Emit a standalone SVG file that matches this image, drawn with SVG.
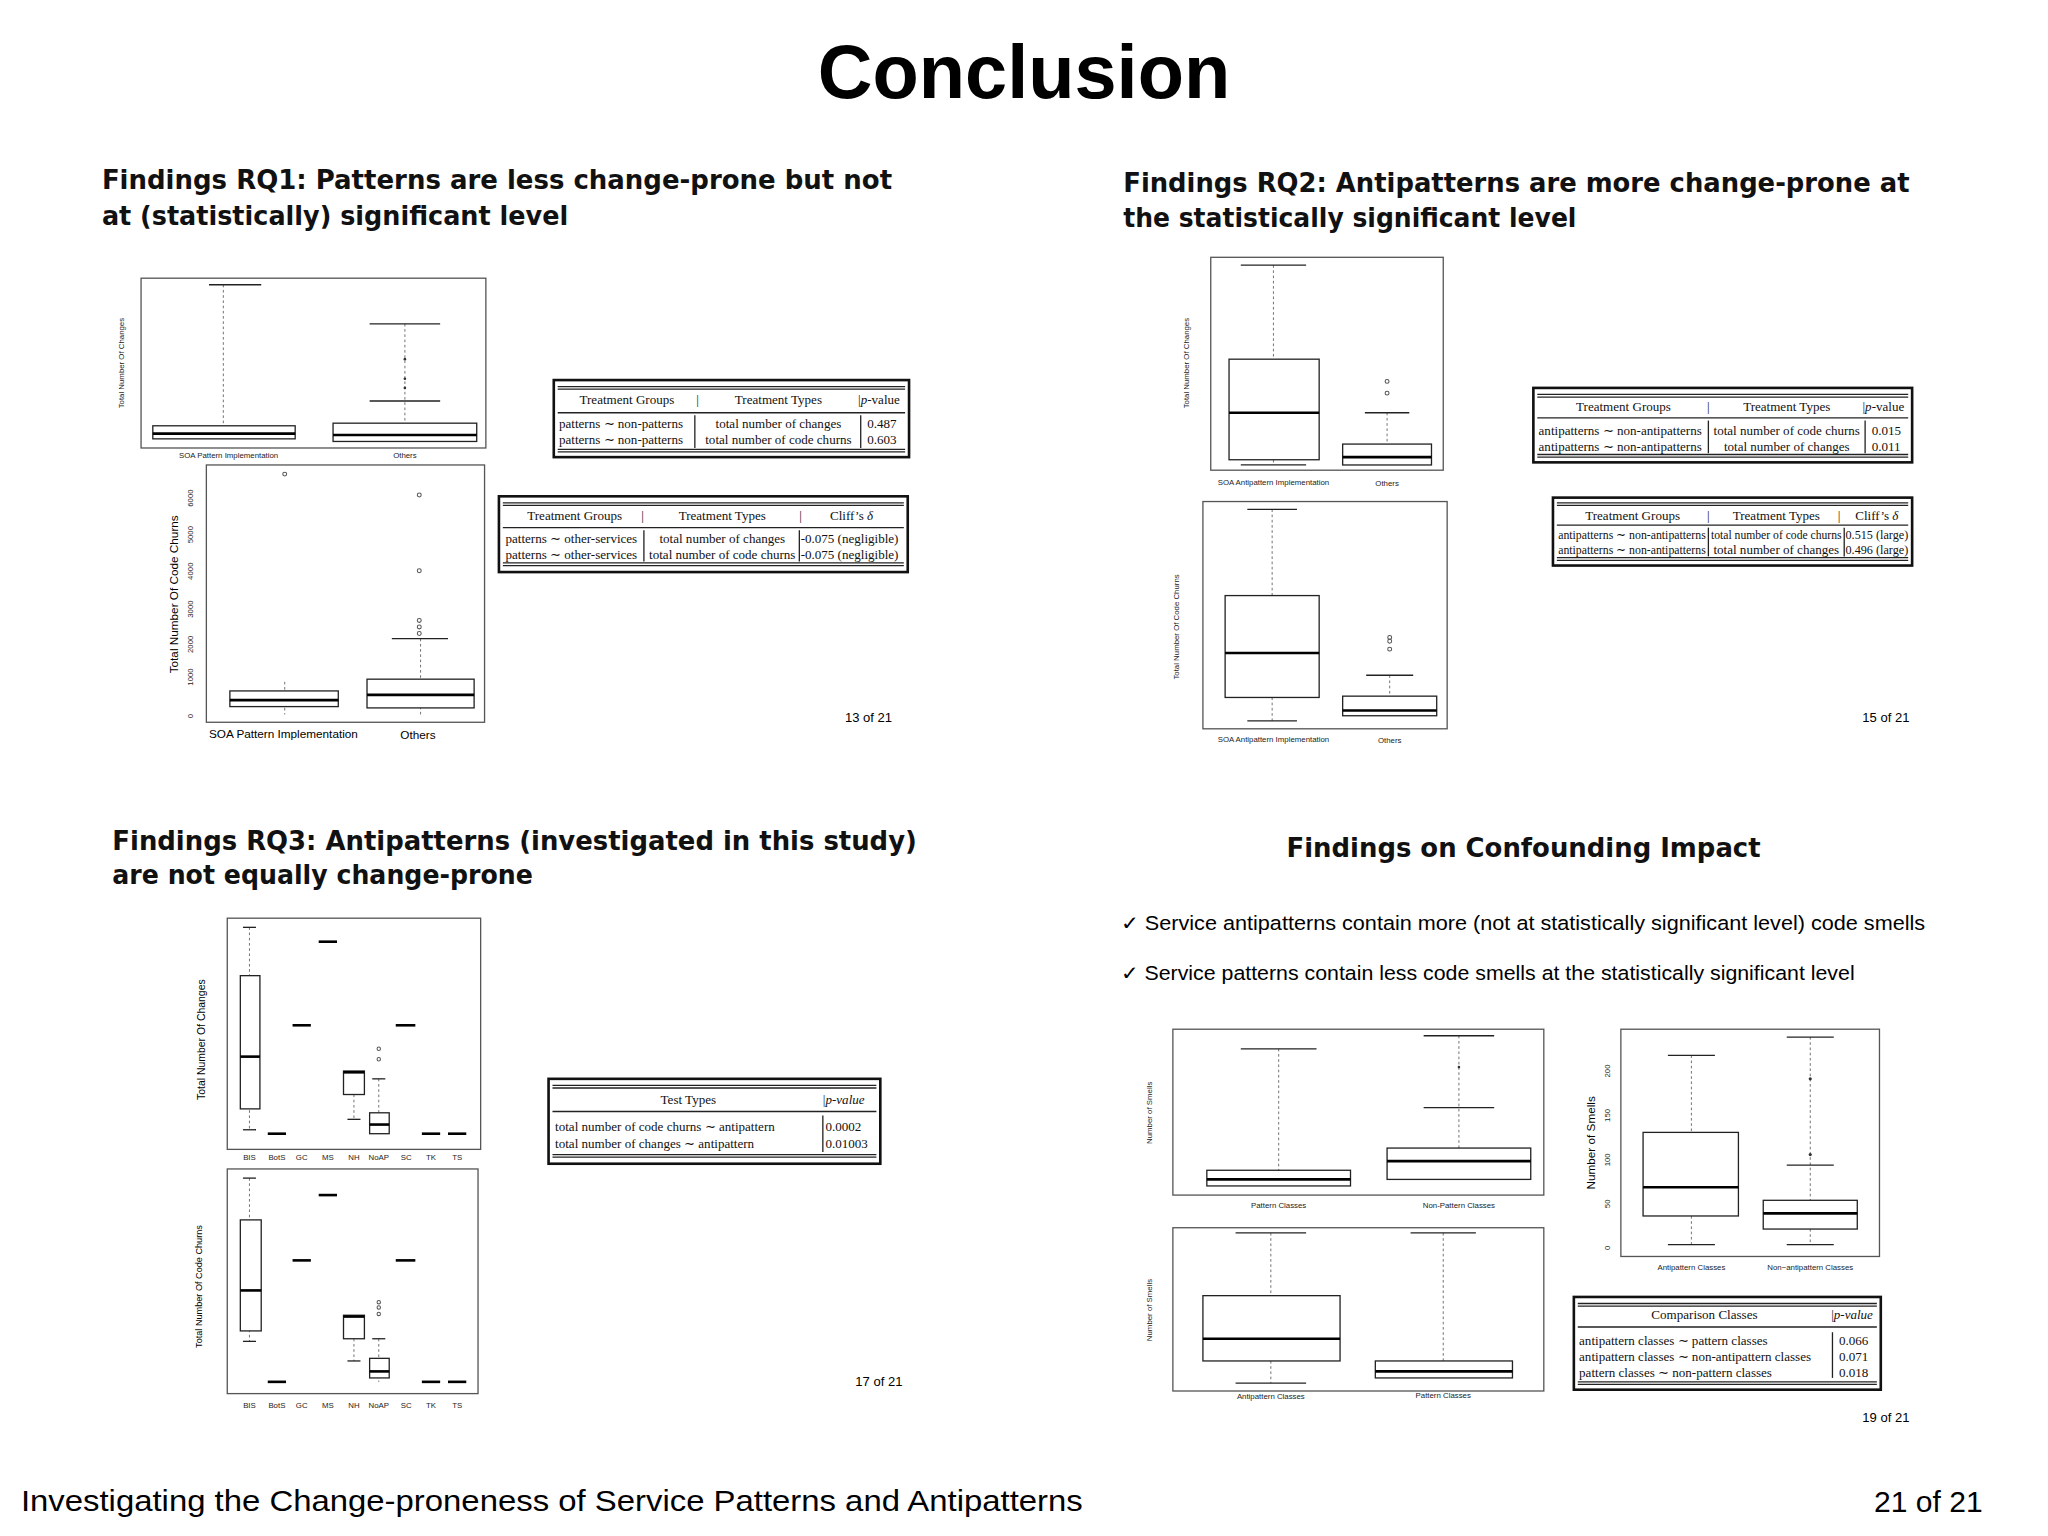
<svg xmlns="http://www.w3.org/2000/svg" width="2048" height="1536" viewBox="0 0 2048 1536">
<style>
.t{font-family:"Liberation Sans",Arial,sans-serif;fill:#000}
.h{font-family:"DejaVu Sans",sans-serif;font-weight:bold;font-size:20px;fill:#111}
.s{font-family:"Liberation Serif","Times New Roman",serif;fill:#111;font-size:10px}
.ax{font-family:"Liberation Sans",Arial,sans-serif;font-size:6px;fill:#222}
.pl{fill:#fff;stroke:#555;stroke-width:1}
.bx{fill:#fff;stroke:#222;stroke-width:1}
.md{stroke:#000;stroke-width:2}
.wk{stroke:#666;stroke-width:0.7;stroke-dasharray:2,2;fill:none}
.fr{fill:#fff;stroke:#111;stroke-width:2}
.rl{stroke:#222;stroke-width:1}
.o{fill:none;stroke:#555;stroke-width:0.8}
</style>
<rect width="2048" height="1536" fill="#fff"/>
<g transform="scale(1.3061)">
<text class="t" x="784" y="75" text-anchor="middle" font-size="58" font-weight="bold">Conclusion</text>

<!-- Slide 1 -->
<g id="slide1">
<text class="h" x="78" y="145" textLength="605" lengthAdjust="spacingAndGlyphs">Findings RQ1: Patterns are less change-prone but not</text>
<text class="h" x="78" y="172" textLength="357" lengthAdjust="spacingAndGlyphs">at (statistically) significant level</text>
<rect class="pl" x="108" y="213" width="264" height="130"/>
<line class="wk" x1="171" y1="218" x2="171" y2="326"/><line class="rl" x1="160" y1="218" x2="200" y2="218"/>
<rect class="bx" x="117" y="326" width="109" height="10"/><line class="md" x1="117" y1="332" x2="226" y2="332"/>
<line class="wk" x1="310" y1="248" x2="310" y2="324"/><line class="rl" x1="283" y1="248" x2="337" y2="248"/><line class="rl" x1="283" y1="307" x2="337" y2="307"/>
<circle cx="310" cy="275" r="1" fill="#333"/><circle cx="310" cy="290" r="1" fill="#333"/><circle cx="310" cy="297" r="1" fill="#333"/>
<rect class="bx" x="255" y="324" width="110" height="14"/><line class="md" x1="255" y1="333" x2="365" y2="333"/>
<text class="ax" x="95" y="278" transform="rotate(-90 95 278)" text-anchor="middle">Total Number Of Changes</text>
<text class="ax" x="175" y="351" text-anchor="middle">SOA Pattern Implementation</text>
<text class="ax" x="310" y="351" text-anchor="middle">Others</text>
<rect class="pl" x="158" y="356" width="213" height="197"/>
<line class="wk" x1="218" y1="522" x2="218" y2="547"/>
<rect class="bx" x="176" y="529" width="83" height="12"/><line class="md" x1="176" y1="536" x2="259" y2="536"/>
<circle class="o" cx="218" cy="363" r="1.5"/>
<line class="wk" x1="322" y1="489" x2="322" y2="548"/><line class="rl" x1="300" y1="489" x2="343" y2="489"/>
<circle class="o" cx="321" cy="379" r="1.5"/><circle class="o" cx="321" cy="437" r="1.5"/><circle class="o" cx="321" cy="475" r="1.5"/><circle class="o" cx="321" cy="480" r="1.5"/><circle class="o" cx="321" cy="485" r="1.5"/>
<rect class="bx" x="281" y="520" width="82" height="22"/><line class="md" x1="281" y1="532" x2="363" y2="532"/>
<text class="t" font-size="9" x="136" y="455" transform="rotate(-90 136 455)" text-anchor="middle">Total Number Of Code Churns</text>
<text class="ax" font-size="7" x="148" y="550" transform="rotate(-90 148 550)">0</text>
<text class="ax" x="148" y="525" transform="rotate(-90 148 525)">1000</text>
<text class="ax" x="148" y="500" transform="rotate(-90 148 500)">2000</text>
<text class="ax" x="148" y="473" transform="rotate(-90 148 473)">3000</text>
<text class="ax" x="148" y="444" transform="rotate(-90 148 444)">4000</text>
<text class="ax" x="148" y="416" transform="rotate(-90 148 416)">5000</text>
<text class="ax" x="148" y="388" transform="rotate(-90 148 388)">6000</text>
<text class="t" font-size="9" x="217" y="565" text-anchor="middle">SOA Pattern Implementation</text>
<text class="t" font-size="9" x="320" y="566" text-anchor="middle">Others</text>
<rect class="fr" x="424" y="291" width="272" height="59"/>
<line class="rl" x1="427" y1="296" x2="693" y2="296"/><line class="rl" x1="427" y1="298" x2="693" y2="298"/>
<line class="rl" x1="427" y1="316" x2="693" y2="316"/>
<line class="rl" x1="427" y1="344" x2="693" y2="344"/><line class="rl" x1="427" y1="346" x2="693" y2="346"/>
<text class="s" x="480" y="309" text-anchor="middle">Treatment Groups</text><text class="s" x="533" y="309">|</text>
<text class="s" x="596" y="309" text-anchor="middle">Treatment Types</text><text class="s" x="657" y="309">|<tspan font-style="italic">p</tspan>-value</text>
<text class="s" x="428" y="328">patterns ∼ non-patterns</text><text class="s" x="428" y="340">patterns ∼ non-patterns</text>
<line class="rl" x1="532" y1="318" x2="532" y2="343"/><line class="rl" x1="659" y1="318" x2="659" y2="343"/>
<text class="s" x="596" y="328" text-anchor="middle">total number of changes</text><text class="s" x="596" y="340" text-anchor="middle">total number of code churns</text>
<text class="s" x="664" y="328">0.487</text><text class="s" x="664" y="340">0.603</text>
<rect class="fr" x="382" y="380" width="313" height="58"/>
<line class="rl" x1="385" y1="385" x2="692" y2="385"/><line class="rl" x1="385" y1="387" x2="692" y2="387"/>
<line class="rl" x1="385" y1="404" x2="692" y2="404"/>
<line class="rl" x1="385" y1="431" x2="692" y2="431"/><line class="rl" x1="385" y1="433" x2="692" y2="433"/>
<text class="s" x="440" y="398" text-anchor="middle">Treatment Groups</text><text class="s" x="491" y="398">|</text>
<text class="s" x="553" y="398" text-anchor="middle">Treatment Types</text><text class="s" x="612" y="398">|</text>
<text class="s" x="652" y="398" text-anchor="middle">Cliff’s <tspan font-style="italic">δ</tspan></text>
<text class="s" x="387" y="416">patterns ∼ other-services</text><text class="s" x="387" y="428">patterns ∼ other-services</text>
<line class="rl" x1="493" y1="406" x2="493" y2="430"/><line class="rl" x1="612" y1="406" x2="612" y2="430"/>
<text class="s" x="553" y="416" text-anchor="middle">total number of changes</text><text class="s" x="553" y="428" text-anchor="middle">total number of code churns</text>
<text class="s" x="613" y="416">-0.075 (negligible)</text><text class="s" x="613" y="428">-0.075 (negligible)</text>
<text class="t" font-size="10" x="683" y="553" text-anchor="end" fill="#333">13 of 21</text>
</g>

<!-- Slide 2 -->
<g id="slide2">
<text class="h" x="860" y="147" textLength="602" lengthAdjust="spacingAndGlyphs">Findings RQ2: Antipatterns are more change-prone at</text>
<text class="h" x="860" y="174" textLength="347" lengthAdjust="spacingAndGlyphs">the statistically significant level</text>
<rect class="pl" x="927" y="197" width="178" height="163"/>
<line class="wk" x1="975" y1="203" x2="975" y2="275"/><line class="rl" x1="950" y1="203" x2="1000" y2="203"/>
<line class="wk" x1="975" y1="352" x2="975" y2="356"/><line class="rl" x1="950" y1="356" x2="1000" y2="356"/>
<rect class="bx" x="941" y="275" width="69" height="77"/><line class="md" x1="941" y1="316" x2="1010" y2="316"/>
<line class="wk" x1="1062" y1="316" x2="1062" y2="340"/><line class="rl" x1="1045" y1="316" x2="1079" y2="316"/>
<circle class="o" cx="1062" cy="292" r="1.5"/><circle class="o" cx="1062" cy="301" r="1.5"/>
<rect class="bx" x="1028" y="340" width="68" height="16"/><line class="md" x1="1028" y1="350" x2="1096" y2="350"/>
<text class="ax" x="910" y="278" transform="rotate(-90 910 278)" text-anchor="middle" font-size="7">Total Number Of Changes</text>
<text class="ax" x="975" y="371" text-anchor="middle" font-size="7">SOA Antipattern Implementation</text>
<text class="ax" x="1062" y="372" text-anchor="middle" font-size="7">Others</text>
<rect class="pl" x="921" y="384" width="187" height="174"/>
<line class="wk" x1="974" y1="390" x2="974" y2="456"/><line class="rl" x1="955" y1="390" x2="993" y2="390"/>
<line class="wk" x1="974" y1="534" x2="974" y2="552"/><line class="rl" x1="955" y1="552" x2="993" y2="552"/>
<rect class="bx" x="938" y="456" width="72" height="78"/><line class="md" x1="938" y1="500" x2="1010" y2="500"/>
<line class="wk" x1="1064" y1="517" x2="1064" y2="533"/><line class="rl" x1="1046" y1="517" x2="1082" y2="517"/>
<circle class="o" cx="1064" cy="488" r="1.5"/><circle class="o" cx="1064" cy="491" r="1.5"/><circle class="o" cx="1064" cy="497" r="1.5"/>
<rect class="bx" x="1028" y="533" width="72" height="15"/><line class="md" x1="1028" y1="544" x2="1100" y2="544"/>
<text class="ax" x="903" y="480" transform="rotate(-90 903 480)" text-anchor="middle" font-size="7">Total Number Of Code Churns</text>
<text class="ax" x="975" y="568" text-anchor="middle" font-size="7">SOA Antipattern Implementation</text>
<text class="ax" x="1064" y="569" text-anchor="middle" font-size="7">Others</text>
<rect class="fr" x="1174" y="297" width="290" height="57"/>
<line class="rl" x1="1177" y1="302" x2="1461" y2="302"/><line class="rl" x1="1177" y1="304" x2="1461" y2="304"/>
<line class="rl" x1="1177" y1="320" x2="1461" y2="320"/>
<line class="rl" x1="1177" y1="348" x2="1461" y2="348"/><line class="rl" x1="1177" y1="350" x2="1461" y2="350"/>
<text class="s" x="1243" y="315" text-anchor="middle">Treatment Groups</text><text class="s" x="1307" y="315">|</text>
<text class="s" x="1368" y="315" text-anchor="middle">Treatment Types</text><text class="s" x="1426" y="315">|<tspan font-style="italic">p</tspan>-value</text>
<text class="s" x="1178" y="333">antipatterns ∼ non-antipatterns</text><text class="s" x="1178" y="345">antipatterns ∼ non-antipatterns</text>
<line class="rl" x1="1308" y1="322" x2="1308" y2="347"/><line class="rl" x1="1428" y1="322" x2="1428" y2="347"/>
<text class="s" x="1368" y="333" text-anchor="middle">total number of code churns</text><text class="s" x="1368" y="345" text-anchor="middle">total number of changes</text>
<text class="s" x="1433" y="333">0.015</text><text class="s" x="1433" y="345">0.011</text>
<rect class="fr" x="1189" y="381" width="275" height="52"/>
<line class="rl" x1="1192" y1="385" x2="1461" y2="385"/><line class="rl" x1="1192" y1="387" x2="1461" y2="387"/>
<line class="rl" x1="1192" y1="402" x2="1461" y2="402"/>
<line class="rl" x1="1192" y1="427" x2="1461" y2="427"/><line class="rl" x1="1192" y1="429" x2="1461" y2="429"/>
<text class="s" font-size="9" x="1250" y="398" text-anchor="middle">Treatment Groups</text><text class="s" font-size="9" x="1307" y="398">|</text>
<text class="s" font-size="9" x="1360" y="398" text-anchor="middle">Treatment Types</text><text class="s" font-size="9" x="1407" y="398">|</text>
<text class="s" font-size="9" x="1437" y="398" text-anchor="middle">Cliff’s <tspan font-style="italic">δ</tspan></text>
<text class="s" font-size="8.5" x="1193" y="413" textLength="113" lengthAdjust="spacingAndGlyphs">antipatterns ∼ non-antipatterns</text><text class="s" font-size="8.5" x="1193" y="424" textLength="113" lengthAdjust="spacingAndGlyphs">antipatterns ∼ non-antipatterns</text>
<line class="rl" x1="1308" y1="404" x2="1308" y2="426"/><line class="rl" x1="1412" y1="404" x2="1412" y2="426"/>
<text class="s" font-size="8.5" x="1310" y="413" textLength="100" lengthAdjust="spacingAndGlyphs">total number of code churns</text><text class="s" font-size="8.5" x="1360" y="424" text-anchor="middle">total number of changes</text>
<text class="s" font-size="8.5" x="1413" y="413" textLength="48" lengthAdjust="spacingAndGlyphs">0.515 (large)</text><text class="s" font-size="8.5" x="1413" y="424" textLength="48" lengthAdjust="spacingAndGlyphs">0.496 (large)</text>
<text class="t" font-size="10" x="1462" y="553" text-anchor="end" fill="#333">15 of 21</text>
</g>

<!-- Slide 3 -->
<g id="slide3">
<text class="h" x="86" y="651" textLength="616" lengthAdjust="spacingAndGlyphs">Findings RQ3: Antipatterns (investigated in this study)</text>
<text class="h" x="86" y="677" textLength="322" lengthAdjust="spacingAndGlyphs">are not equally change-prone</text>
<rect class="pl" x="174" y="703" width="194" height="177"/>
<line class="wk" x1="191" y1="710" x2="191" y2="865"/><line class="rl" x1="186" y1="710" x2="196" y2="710"/><line class="rl" x1="186" y1="865" x2="196" y2="865"/>
<rect class="bx" x="184" y="747" width="15" height="102"/><line class="md" x1="184" y1="809" x2="199" y2="809"/>
<line class="md" x1="205" y1="868" x2="219" y2="868"/>
<line class="md" x1="224" y1="785" x2="238" y2="785"/>
<line class="md" x1="244" y1="721" x2="258" y2="721"/>
<line class="wk" x1="271" y1="838" x2="271" y2="857"/><line class="rl" x1="266" y1="857" x2="276" y2="857"/>
<rect class="bx" x="263" y="820" width="16" height="18"/><line class="md" x1="263" y1="821" x2="279" y2="821"/>
<line class="wk" x1="290" y1="826" x2="290" y2="868"/><line class="rl" x1="285" y1="826" x2="295" y2="826"/>
<circle class="o" cx="290" cy="803" r="1.3"/><circle class="o" cx="290" cy="811" r="1.3"/>
<rect class="bx" x="283" y="852" width="15" height="16"/><line class="md" x1="283" y1="861" x2="298" y2="861"/>
<line class="md" x1="303" y1="785" x2="318" y2="785"/>
<line class="md" x1="323" y1="868" x2="337" y2="868"/>
<line class="md" x1="343" y1="868" x2="357" y2="868"/>
<text class="t" font-size="8" x="157" y="796" transform="rotate(-90 157 796)" text-anchor="middle">Total Number Of Changes</text>
<g class="ax" text-anchor="middle"><text x="191" y="888">BIS</text><text x="212" y="888">BotS</text><text x="231" y="888">GC</text><text x="251" y="888">MS</text><text x="271" y="888">NH</text><text x="290" y="888">NoAP</text><text x="311" y="888">SC</text><text x="330" y="888">TK</text><text x="350" y="888">TS</text></g>
<rect class="pl" x="174" y="895" width="192" height="172"/>
<line class="wk" x1="191" y1="902" x2="191" y2="1027"/><line class="rl" x1="186" y1="902" x2="196" y2="902"/><line class="rl" x1="186" y1="1027" x2="196" y2="1027"/>
<rect class="bx" x="184" y="934" width="16" height="85"/><line class="md" x1="184" y1="988" x2="200" y2="988"/>
<line class="md" x1="205" y1="1058" x2="219" y2="1058"/>
<line class="md" x1="224" y1="965" x2="238" y2="965"/>
<line class="md" x1="244" y1="915" x2="258" y2="915"/>
<line class="wk" x1="271" y1="1025" x2="271" y2="1042"/><line class="rl" x1="266" y1="1042" x2="276" y2="1042"/>
<rect class="bx" x="263" y="1007" width="16" height="18"/><line class="md" x1="263" y1="1008" x2="279" y2="1008"/>
<line class="wk" x1="290" y1="1025" x2="290" y2="1058"/><line class="rl" x1="285" y1="1025" x2="295" y2="1025"/>
<circle class="o" cx="290" cy="997" r="1.3"/><circle class="o" cx="290" cy="1001" r="1.3"/><circle class="o" cx="290" cy="1006" r="1.3"/>
<rect class="bx" x="283" y="1040" width="15" height="15"/><line class="md" x1="283" y1="1050" x2="298" y2="1050"/>
<line class="md" x1="303" y1="965" x2="318" y2="965"/>
<line class="md" x1="323" y1="1058" x2="337" y2="1058"/>
<line class="md" x1="343" y1="1058" x2="357" y2="1058"/>
<text class="t" font-size="7" x="155" y="985" transform="rotate(-90 155 985)" text-anchor="middle">Total Number Of Code Churns</text>
<g class="ax" text-anchor="middle"><text x="191" y="1078">BIS</text><text x="212" y="1078">BotS</text><text x="231" y="1078">GC</text><text x="251" y="1078">MS</text><text x="271" y="1078">NH</text><text x="290" y="1078">NoAP</text><text x="311" y="1078">SC</text><text x="330" y="1078">TK</text><text x="350" y="1078">TS</text></g>
<rect class="fr" x="420" y="826" width="254" height="65"/>
<line class="rl" x1="423" y1="831" x2="671" y2="831"/><line class="rl" x1="423" y1="833" x2="671" y2="833"/>
<line class="rl" x1="423" y1="851" x2="671" y2="851"/>
<line class="rl" x1="423" y1="884" x2="671" y2="884"/><line class="rl" x1="423" y1="886" x2="671" y2="886"/>
<text class="s" font-size="11" x="527" y="845" text-anchor="middle">Test Types</text><text class="s" font-size="11" x="630" y="845">|<tspan font-style="italic">p-value</tspan></text>
<text class="s" font-size="11" x="425" y="866">total number of code churns ∼ antipattern</text>
<text class="s" font-size="11" x="425" y="879">total number of changes ∼ antipattern</text>
<line class="rl" x1="630" y1="854" x2="630" y2="882"/>
<text class="s" font-size="11" x="632" y="866">0.0002</text><text class="s" font-size="11" x="632" y="879">0.01003</text>
<text class="t" font-size="10" x="691" y="1061" text-anchor="end" fill="#333">17 of 21</text>
</g>

<!-- Slide 4 -->
<g id="slide4">
<text class="h" x="985" y="656" textLength="363" lengthAdjust="spacingAndGlyphs">Findings on Confounding Impact</text>
<text class="t" font-size="15.5" x="858" y="712" fill="#222" textLength="616" lengthAdjust="spacingAndGlyphs">✓ Service antipatterns contain more (not at statistically significant level) code smells</text>
<text class="t" font-size="15.5" x="858" y="750" fill="#222" textLength="562" lengthAdjust="spacingAndGlyphs">✓ Service patterns contain less code smells at the statistically significant level</text>
<rect class="pl" x="898" y="788" width="284" height="127"/>
<line class="wk" x1="979" y1="803" x2="979" y2="896"/><line class="rl" x1="950" y1="803" x2="1008" y2="803"/>
<rect class="bx" x="924" y="896" width="110" height="12"/><line class="md" x1="924" y1="903" x2="1034" y2="903"/>
<line class="wk" x1="1117" y1="793" x2="1117" y2="879"/><line class="rl" x1="1090" y1="793" x2="1144" y2="793"/><line class="rl" x1="1090" y1="848" x2="1144" y2="848"/>
<circle cx="1117" cy="817" r="1" fill="#333"/>
<rect class="bx" x="1062" y="879" width="110" height="24"/><line class="md" x1="1062" y1="889" x2="1172" y2="889"/>
<text class="ax" font-size="5" x="882" y="852" transform="rotate(-90 882 852)" text-anchor="middle">Number of Smells</text>
<text class="ax" font-size="6" x="979" y="925" text-anchor="middle">Pattern Classes</text>
<text class="ax" font-size="6" x="1117" y="925" text-anchor="middle">Non-Pattern Classes</text>
<rect class="pl" x="898" y="940" width="284" height="125"/>
<line class="wk" x1="973" y1="944" x2="973" y2="992"/><line class="rl" x1="946" y1="944" x2="1000" y2="944"/>
<line class="wk" x1="973" y1="1042" x2="973" y2="1059"/><line class="rl" x1="946" y1="1059" x2="1000" y2="1059"/>
<rect class="bx" x="921" y="992" width="105" height="50"/><line class="md" x1="921" y1="1025" x2="1026" y2="1025"/>
<line class="wk" x1="1105" y1="944" x2="1105" y2="1042"/><line class="rl" x1="1080" y1="944" x2="1130" y2="944"/>
<rect class="bx" x="1053" y="1042" width="105" height="13"/><line class="md" x1="1053" y1="1050" x2="1158" y2="1050"/>
<text class="ax" font-size="5" x="882" y="1003" transform="rotate(-90 882 1003)" text-anchor="middle">Number of Smells</text>
<text class="ax" font-size="6" x="973" y="1071" text-anchor="middle">Antipattern Classes</text>
<text class="ax" font-size="6" x="1105" y="1070" text-anchor="middle">Pattern Classes</text>
<rect class="pl" x="1241" y="788" width="198" height="174"/>
<line class="wk" x1="1295" y1="808" x2="1295" y2="867"/><line class="rl" x1="1277" y1="808" x2="1313" y2="808"/>
<line class="wk" x1="1295" y1="931" x2="1295" y2="953"/><line class="rl" x1="1277" y1="953" x2="1313" y2="953"/>
<rect class="bx" x="1258" y="867" width="73" height="64"/><line class="md" x1="1258" y1="909" x2="1331" y2="909"/>
<line class="wk" x1="1386" y1="794" x2="1386" y2="919"/><line class="rl" x1="1368" y1="794" x2="1404" y2="794"/><line class="rl" x1="1368" y1="892" x2="1404" y2="892"/>
<circle cx="1386" cy="826" r="1.2" fill="#333"/><circle cx="1386" cy="884" r="1.2" fill="#333"/>
<line class="wk" x1="1386" y1="941" x2="1386" y2="953"/><line class="rl" x1="1368" y1="953" x2="1404" y2="953"/>
<rect class="bx" x="1350" y="919" width="72" height="22"/><line class="md" x1="1350" y1="929" x2="1422" y2="929"/>
<text class="t" font-size="9" x="1221" y="875" transform="rotate(-90 1221 875)" text-anchor="middle">Number of Smells</text>
<g class="ax" font-size="7"><text x="1233" y="957" transform="rotate(-90 1233 957)">0</text><text x="1233" y="925" transform="rotate(-90 1233 925)">50</text><text x="1233" y="893" transform="rotate(-90 1233 893)">100</text><text x="1233" y="859" transform="rotate(-90 1233 859)">150</text><text x="1233" y="825" transform="rotate(-90 1233 825)">200</text></g>
<text class="ax" font-size="7.5" x="1295" y="972" text-anchor="middle">Antipattern Classes</text>
<text class="ax" font-size="7.5" x="1386" y="972" text-anchor="middle">Non−antipattern Classes</text>
<rect class="fr" x="1205" y="993" width="235" height="71"/>
<line class="rl" x1="1208" y1="998" x2="1437" y2="998"/><line class="rl" x1="1208" y1="1000" x2="1437" y2="1000"/>
<line class="rl" x1="1208" y1="1016" x2="1437" y2="1016"/>
<line class="rl" x1="1208" y1="1058" x2="1437" y2="1058"/><line class="rl" x1="1208" y1="1060" x2="1437" y2="1060"/>
<text class="s" x="1305" y="1010" text-anchor="middle">Comparison Classes</text><text class="s" x="1402" y="1010">|<tspan font-style="italic">p-value</tspan></text>
<text class="s" x="1209" y="1030">antipattern classes ∼ pattern classes</text>
<text class="s" x="1209" y="1042">antipattern classes ∼ non-antipattern classes</text>
<text class="s" x="1209" y="1054">pattern classes ∼ non-pattern classes</text>
<line class="rl" x1="1403" y1="1020" x2="1403" y2="1055"/>
<text class="s" x="1408" y="1030">0.066</text><text class="s" x="1408" y="1042">0.071</text><text class="s" x="1408" y="1054">0.018</text>
<text class="t" font-size="10" x="1462" y="1089" text-anchor="end" fill="#333">19 of 21</text>
</g>

<text class="t" font-size="23" x="16" y="1157" fill="#111" textLength="813" lengthAdjust="spacingAndGlyphs">Investigating the Change-proneness of Service Patterns and Antipatterns</text>
<text class="t" font-size="23" x="1518" y="1158" text-anchor="end" fill="#111">21 of 21</text>
</g>
</svg>
